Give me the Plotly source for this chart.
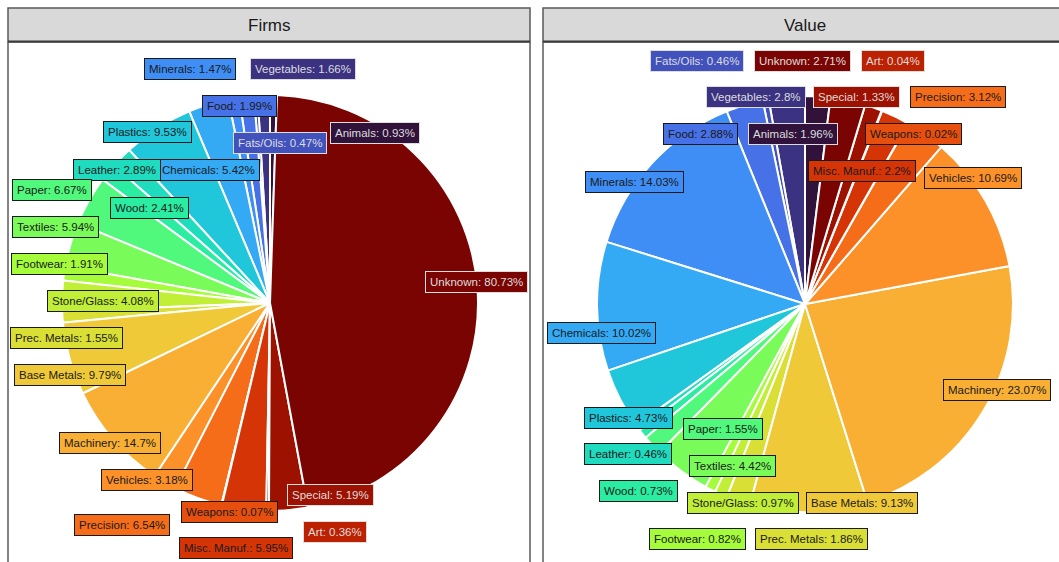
import plotly.graph_objects as go
from plotly.colors import sample_colorscale

W, H = 1059, 562

categories = ["Animals", "Vegetables", "Fats/Oils", "Food", "Minerals", "Chemicals",
              "Plastics", "Leather", "Wood", "Paper", "Textiles", "Footwear",
              "Stone/Glass", "Prec. Metals", "Base Metals", "Machinery", "Vehicles",
              "Precision", "Weapons", "Misc. Manuf.", "Art", "Special", "Unknown"]

firms_pct = [0.93, 1.66, 0.47, 1.99, 1.47, 5.42, 9.53, 2.89, 2.41, 6.67, 5.94, 1.91,
             4.08, 1.55, 9.79, 14.7, 3.18, 6.54, 0.07, 5.95, 0.36, 5.19, 80.73]

value_pct = [1.96, 2.8, 0.46, 2.88, 14.03, 10.02, 4.73, 0.46, 0.73, 1.55, 4.42, 0.82,
             0.97, 1.86, 9.13, 23.07, 10.69, 3.12, 0.02, 2.2, 0.04, 1.33, 2.71]

panel_titles = ["Firms", "Value"]

# colours: turbo palette across the categories
colors = sample_colorscale("Turbo", [i / (len(categories) - 1) for i in range(len(categories))])
dark_fill = {"Animals", "Vegetables", "Fats/Oils", "Unknown", "Special", "Art"}

# label placement (pixel centres, repelled positions) -- layout only
firms_label_pos = {
    "Minerals": (190, 69), "Vegetables": (303, 69), "Food": (239, 106),
    "Plastics": (147, 132), "Fats/Oils": (280, 143), "Animals": (375, 133),
    "Chemicals": (208, 170), "Leather": (117, 170), "Paper": (52, 190),
    "Wood": (149, 208), "Textiles": (55, 227), "Footwear": (59, 264),
    "Stone/Glass": (103, 301), "Prec. Metals": (66, 338), "Base Metals": (70, 375),
    "Unknown": (476, 282), "Machinery": (110, 443), "Vehicles": (147, 480),
    "Special": (330, 495), "Weapons": (229, 512), "Precision": (122, 525),
    "Art": (335, 532), "Misc. Manuf.": (236, 548),
}
value_label_pos = {
    "Fats/Oils": (697, 61), "Unknown": (802, 61), "Art": (893, 61),
    "Vegetables": (756, 97), "Special": (856, 97), "Precision": (958, 97),
    "Food": (700, 134), "Animals": (793, 134), "Weapons": (913, 134),
    "Minerals": (634, 182), "Misc. Manuf.": (862, 171), "Vehicles": (973, 178),
    "Chemicals": (601, 333), "Machinery": (997, 390), "Plastics": (628, 418),
    "Paper": (723, 429), "Leather": (628, 454), "Textiles": (732, 466),
    "Wood": (638, 491), "Stone/Glass": (743, 503), "Base Metals": (862, 503),
    "Footwear": (697, 539), "Prec. Metals": (811, 539),
}


def px(x):
    return x / W


def py(y):
    return 1 - y / H


def fmt(v):
    s = ("%.2f" % v).rstrip("0").rstrip(".")
    return s


fig = go.Figure()

# pies: centre & radius in pixels
pies = [
    (firms_pct, (270, 303), 208),
    (value_pct, (805, 304), 208),
]
for vals, (cx, cy), r in pies:
    fig.add_trace(go.Pie(
        labels=categories, values=vals, sort=False, direction="counterclockwise",
        rotation=0, textinfo="none", showlegend=False,
        marker=dict(colors=colors, line=dict(color="white", width=2)),
        domain=dict(x=[px(cx - r), px(cx + r)], y=[py(cy + r), py(cy - r)]),
        hovertemplate="%{label}<extra></extra>",
    ))

shapes = []
strip_fill = "#d9d9d9"
border = "#5a5a5a"
for x0, x1 in [(8, 530), (543, 1070)]:
    # strip
    shapes.append(dict(type="rect", xref="paper", yref="paper",
                       x0=px(x0), x1=px(x1), y0=py(42), y1=py(8),
                       fillcolor=strip_fill, line=dict(color=border, width=1.5), layer="above"))
    shapes.append(dict(type="line", xref="paper", yref="paper",
                       x0=px(x0), x1=px(x1), y0=py(41.5), y1=py(41.5),
                       line=dict(color="#3a3a3a", width=2), layer="above"))
    # panel side borders
    for xx in (x0, x1):
        shapes.append(dict(type="line", xref="paper", yref="paper",
                           x0=px(xx), x1=px(xx), y0=py(42), y1=py(580),
                           line=dict(color=border, width=1.5), layer="above"))

annotations = []
for title, cxp in zip(panel_titles, [269, 805]):
    annotations.append(dict(text=title, xref="paper", yref="paper",
                            x=px(cxp), y=py(25),
                            showarrow=False, xanchor="center", yanchor="middle",
                            font=dict(family="Liberation Sans, Arial", size=17, color="#1a1a1a")))

for vals, pos in [(firms_pct, firms_label_pos), (value_pct, value_label_pos)]:
    for name in pos:
        i = categories.index(name)
        light = name in dark_fill
        tcol = "#dddddd" if light else "#1a1a1a"
        x, y = pos[name]
        annotations.append(dict(
            text=f"{name}: {fmt(vals[i])}%", xref="paper", yref="paper",
            x=px(x), y=py(y), showarrow=False, xanchor="center", yanchor="middle",
            font=dict(family="Liberation Sans, Arial", size=11.5, color=tcol),
            bgcolor=colors[i], bordercolor=tcol, borderwidth=1, borderpad=4,
        ))

fig.update_layout(
    width=W, height=H, margin=dict(l=0, r=0, t=0, b=0),
    paper_bgcolor="white", plot_bgcolor="white",
    shapes=shapes, annotations=annotations,
)

fig.write_html("out.html", config={"displayModeBar": False},
               post_script="document.body.style.margin='0';document.body.style.overflow='hidden';")
